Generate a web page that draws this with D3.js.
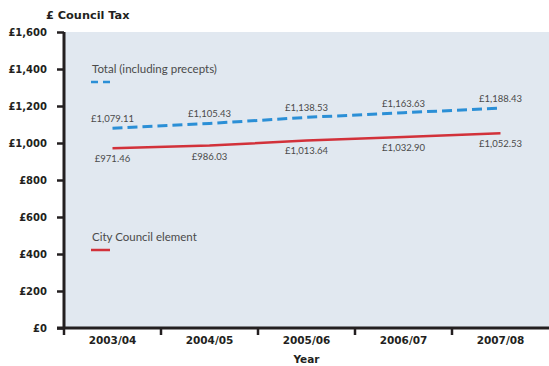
<!DOCTYPE html>
<html>
<head>
<meta charset="utf-8">
<script src="https://cdn.jsdelivr.net/npm/d3@7"></script>
<style>
  html, body { margin: 0; padding: 0; background: #ffffff; }
  svg { display: block; }
</style>
</head>
<body>
<svg id="chart" width="549" height="366"></svg>
<script>
// Council tax per year, Band D
const years = ["2003/04", "2004/05", "2005/06", "2006/07", "2007/08"];
const totalTax = [1079.11, 1105.43, 1138.53, 1163.63, 1188.43];
const councilTax = [971.46, 986.03, 1013.64, 1032.90, 1052.53];
const yTicks = [0, 200, 400, 600, 800, 1000, 1200, 1400, 1600];

const svg = d3.select("#chart");
const plotL = 64, plotR = 549, plotT = 32, plotB = 328;
const boldFont = "'DejaVu Sans', sans-serif";
const ink = "#231f20";

const x = d3.scaleBand().domain(years).range([plotL, plotR]);
const y = d3.scaleLinear().domain([0, 1600]).range([plotB, plotT]);

// plot background
svg.append("rect")
  .attr("x", plotL).attr("y", plotT)
  .attr("width", plotR - plotL).attr("height", plotB - plotT)
  .attr("fill", "#e1e8f0");

// title
svg.append("text")
  .attr("x", 46).attr("y", 19)
  .attr("font-family", boldFont).attr("font-weight", "bold")
  .attr("font-size", 11.3).attr("fill", ink)
  .text("£ Council Tax");

// y axis
const yAxis = d3.axisLeft(y)
  .tickValues(yTicks)
  .tickSize(7)
  .tickPadding(10)
  .tickFormat(d => "£" + d3.format(",")(d));
const gy = svg.append("g").attr("transform", `translate(${plotL},0)`).call(yAxis);
gy.select(".domain").remove();
gy.selectAll(".tick line").attr("stroke", ink).attr("stroke-width", 2.5);
gy.selectAll(".tick text")
  .attr("font-family", boldFont).attr("font-weight", "bold")
  .attr("font-size", 10).attr("fill", ink);

// x axis (ticks between categories)
const gx = svg.append("g").attr("transform", `translate(0,${plotB})`);
gx.selectAll("line.tk")
  .data(years)
  .join("line")
  .attr("class", "tk")
  .attr("x1", d => x(d)).attr("x2", d => x(d))
  .attr("y1", 0).attr("y2", 7)
  .attr("stroke", ink).attr("stroke-width", 2.5);
gx.selectAll("text")
  .data(years)
  .join("text")
  .attr("x", d => x(d) + x.bandwidth() / 2)
  .attr("y", 16)
  .attr("text-anchor", "middle")
  .attr("font-family", boldFont).attr("font-weight", "bold")
  .attr("font-size", 10.5).attr("fill", ink)
  .text(d => d);

// axis lines
svg.append("line")
  .attr("x1", plotL).attr("x2", plotL)
  .attr("y1", plotT).attr("y2", plotB + 1)
  .attr("stroke", ink).attr("stroke-width", 3);
svg.append("line")
  .attr("x1", plotL - 7).attr("x2", plotR)
  .attr("y1", plotB).attr("y2", plotB)
  .attr("stroke", ink).attr("stroke-width", 3);

// axis title
svg.append("text")
  .attr("x", x("2005/06") + x.bandwidth() / 2).attr("y", 363)
  .attr("text-anchor", "middle")
  .attr("font-family", boldFont).attr("font-weight", "bold")
  .attr("font-size", 10.5).attr("fill", ink)
  .text("Year");

const cx = d => x(d) + x.bandwidth() / 2;
const line = d3.line().x(d => cx(d[0])).y(d => y(d[1]));

const totalPts = years.map((d, i) => [d, totalTax[i]]);
const councilPts = years.map((d, i) => [d, councilTax[i]]);

svg.append("path")
  .datum(totalPts)
  .attr("d", line)
  .attr("fill", "none")
  .attr("stroke", "#2b8fd6")
  .attr("stroke-width", 3)
  .attr("stroke-dasharray", "10,5");

svg.append("path")
  .datum(councilPts)
  .attr("d", line)
  .attr("fill", "none")
  .attr("stroke", "#d2313a")
  .attr("stroke-width", 2.5);

const labelFont = "Lato, 'DejaVu Sans', sans-serif";
const money = d3.format(",.2f");

svg.selectAll("text.tot")
  .data(totalPts)
  .join("text")
  .attr("class", "tot")
  .attr("x", d => cx(d[0]))
  .attr("y", d => y(d[1]) - 6)
  .attr("text-anchor", "middle")
  .attr("font-family", labelFont).attr("font-size", 9.5)
  .attr("fill", "#4a4a4a")
  .text(d => "£" + money(d[1]));

svg.selectAll("text.cc")
  .data(councilPts)
  .join("text")
  .attr("class", "cc")
  .attr("x", d => cx(d[0]))
  .attr("y", d => y(d[1]) + 14)
  .attr("text-anchor", "middle")
  .attr("font-family", labelFont).attr("font-size", 9.5)
  .attr("fill", "#4a4a4a")
  .text(d => "£" + money(d[1]));

// legends
svg.append("text")
  .attr("x", 92).attr("y", 73)
  .attr("font-family", labelFont).attr("font-size", 11.5)
  .attr("fill", "#4a4a4a")
  .text("Total (including precepts)");
svg.append("line")
  .attr("x1", 91).attr("x2", 110)
  .attr("y1", 82).attr("y2", 82)
  .attr("stroke", "#2b8fd6").attr("stroke-width", 2.5)
  .attr("stroke-dasharray", "7,5");

svg.append("text")
  .attr("x", 92).attr("y", 241)
  .attr("font-family", labelFont).attr("font-size", 11.5)
  .attr("fill", "#4a4a4a")
  .text("City Council element");
svg.append("line")
  .attr("x1", 91).attr("x2", 110)
  .attr("y1", 250).attr("y2", 250)
  .attr("stroke", "#d2313a").attr("stroke-width", 2.5);
</script>
</body>
</html>
